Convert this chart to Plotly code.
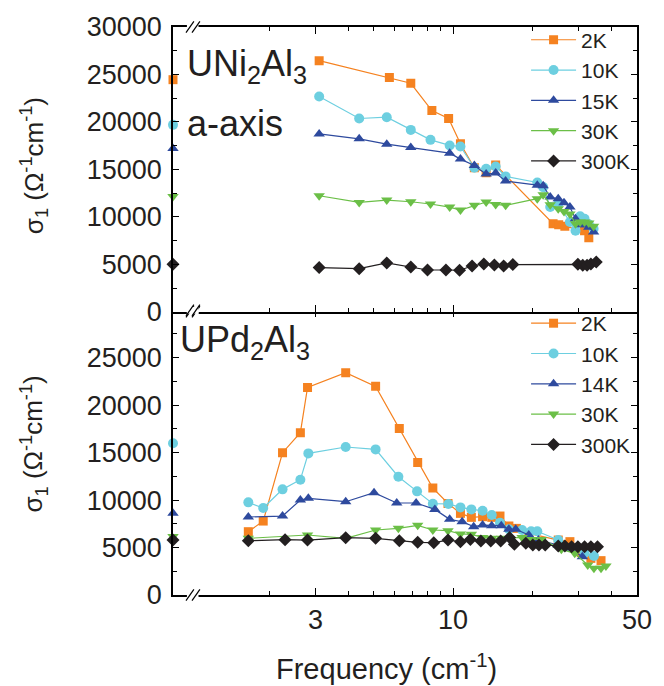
import math
import plotly.graph_objects as go

# ---------------- data ----------------
series_names_top = ["2K", "10K", "15K", "30K", "300K"]
series_names_bot = ["2K", "10K", "14K", "30K", "300K"]
colors = ["#F58220", "#6DCFE0", "#2E4A9E", "#6BBF47", "#231F20"]
symbols = ["square", "circle", "triangle-up", "triangle-down", "diamond"]

dc_freq = 0.863  # DC values drawn at left edge of the (broken) axis

# UNi2Al3 a-axis
top_2K_f = [3.10, 5.73, 6.91, 8.31, 9.62, 10.67, 12.05, 13.36, 14.52, 24.0, 25.2, 26.6, 31.6, 32.8]
top_2K_s = [26450, 24670, 24070, 21200, 20360, 17690, 15170, 14640, 15450, 9280, 9170, 9000, 8540, 7800]
top_10K_f = [3.10, 4.40, 5.60, 6.91, 8.21, 9.71, 10.67, 12.05, 13.36, 14.52, 15.84, 20.9, 22.0, 23.4, 25.1, 27.8, 29.2, 30.4, 31.6, 32.8, 34.2]
top_10K_s = [22670, 20360, 20500, 19160, 18110, 17520, 17410, 15170, 15060, 15300, 14260, 13620, 13130, 11030, 11380, 9450, 8540, 10050, 9800, 9210, 8750]
top_15K_f = [3.10, 4.40, 5.60, 6.91, 9.71, 10.67, 12.05, 13.36, 14.52, 15.84, 20.9, 22.0, 23.4, 25.1, 26.4, 27.8, 29.2, 30.4, 31.6, 32.8, 34.2]
top_15K_s = [18740, 18220, 17660, 17310, 16710, 16080, 15410, 14500, 14610, 13770, 13340, 13270, 12080, 11910, 11490, 11030, 9800, 9170, 9170, 8890, 8400]
top_30K_f = [3.10, 4.40, 5.60, 6.91, 8.21, 9.71, 10.67, 12.05, 13.36, 14.52, 15.84, 20.9, 22.0, 23.4, 25.1, 26.4, 27.8, 29.2, 30.4, 31.6, 32.8, 34.2]
top_30K_s = [12220, 11520, 11770, 11590, 11350, 11030, 10710, 11210, 11560, 11310, 11210, 11910, 12330, 11280, 10860, 10570, 10290, 9280, 9450, 9450, 9350, 9000]
top_300K_f = [3.10, 4.40, 5.60, 6.91, 8.00, 9.40, 10.59, 11.81, 13.09, 14.36, 15.57, 16.87, 29.8, 31.1, 32.3, 33.4, 35.0]
top_300K_s = [4650, 4540, 5140, 4720, 4400, 4400, 4370, 4820, 5040, 4930, 4820, 4970, 5000, 4890, 4890, 5040, 5250]
top_dc = [24450, 19690, 17200, 12150, 5000]

# UPd2Al3
bot_2K_f = [1.668, 1.90, 2.25, 2.63, 2.80, 3.91, 5.08, 6.25, 7.34, 8.38, 9.57, 10.67, 11.74, 12.95, 14.03, 15.08, 16.3, 17.4, 19.4, 25.1, 27.8, 30.7, 33.4, 36.5]
bot_2K_s = [6670, 7790, 14990, 17100, 21870, 23420, 21980, 17550, 13970, 11270, 9650, 8600, 8180, 8250, 8180, 8320, 7270, 7020, 6500, 5790, 5620, 4460, 3860, 3620]
bot_10K_f = [1.668, 1.90, 2.25, 2.63, 2.82, 3.91, 5.08, 6.20, 7.30, 8.38, 9.60, 10.67, 11.74, 12.95, 14.03, 15.08, 16.3, 18.3, 19.8, 20.9, 25.1, 31.6, 34.3]
bot_10K_s = [9760, 9160, 11130, 12150, 14920, 15590, 15340, 12460, 10920, 9620, 9590, 9230, 9020, 8880, 8430, 7620, 6920, 6850, 6710, 6710, 5790, 4390, 4110]
bot_14K_f = [1.668, 2.25, 2.63, 2.82, 3.91, 5.01, 6.11, 7.24, 8.53, 9.71, 10.83, 11.98, 12.95, 14.03, 15.25, 16.3, 17.3, 19.4, 21.1, 25.1, 27.8, 31.0]
bot_14K_s = [8220, 8320, 10010, 10180, 9830, 10780, 9690, 9690, 9020, 7970, 7720, 7200, 7370, 7300, 7300, 6920, 6920, 6320, 5790, 5270, 4920, 4040]
bot_30K_f = [1.668, 2.80, 3.91, 5.08, 6.20, 7.34, 8.38, 9.57, 10.67, 11.74, 12.95, 14.03, 15.3, 18.3, 19.9, 21.7, 25.8, 29.0, 32.5, 34.3, 36.5, 38.1]
bot_30K_s = [5970, 6320, 5970, 6850, 7020, 7340, 6850, 6780, 6430, 6390, 6070, 5970, 5970, 6070, 5860, 5860, 4810, 4390, 3160, 2810, 2810, 3060]
bot_300K_f = [1.668, 2.30, 2.80, 3.91, 5.08, 6.25, 7.34, 8.45, 9.57, 10.67, 11.64, 12.76, 13.91, 15.17, 16.4, 17.1, 18.9, 20.1, 21.2, 22.4, 25.1, 26.6, 28.2, 29.8, 31.6, 33.4, 35.4]
bot_300K_s = [5720, 5830, 5790, 6040, 5970, 5720, 5550, 5510, 5790, 5620, 5860, 5690, 5690, 5690, 6070, 5340, 5440, 5270, 5270, 5270, 5160, 5160, 5090, 5090, 5090, 5090, 5090]
bot_dc_names = ["10K", "14K", "30K", "300K"]
bot_dc = [15980, 8600, 6150, 5790]

x_tickvals = [3, 10, 50]
x_ticktext = ["3", "10", "50"]
x_minor = [2, 4, 5, 6, 7, 8, 9, 20, 30, 40]
y_tickvals_top = [0, 5000, 10000, 15000, 20000, 25000, 30000]
y_tickvals_bot = [0, 5000, 10000, 15000, 20000, 25000]

# ---------------- figure ----------------
FONT = "Liberation Sans, Arial, sans-serif"
TXT = "#231F20"
fig = go.Figure()

top_sets = [(top_2K_f, top_2K_s), (top_10K_f, top_10K_s), (top_15K_f, top_15K_s),
            (top_30K_f, top_30K_s), (top_300K_f, top_300K_s)]
bot_sets = [(bot_2K_f, bot_2K_s), (bot_10K_f, bot_10K_s), (bot_14K_f, bot_14K_s),
            (bot_30K_f, bot_30K_s), (bot_300K_f, bot_300K_s)]

msize = [9, 10, 10, 10, 10]

for i, (f, s) in enumerate(top_sets):
    fig.add_trace(go.Scatter(
        x=f, y=s, mode="lines+markers", name=series_names_top[i],
        line=dict(color=colors[i], width=1.2),
        marker=dict(symbol=symbols[i], size=msize[i], color=colors[i]),
        xaxis="x2", yaxis="y2", legend="legend"))
for i, v in enumerate(top_dc):
    fig.add_trace(go.Scatter(
        x=[dc_freq], y=[v], mode="markers", showlegend=False,
        marker=dict(symbol=symbols[i], size=msize[i], color=colors[i]),
        cliponaxis=False, xaxis="x2", yaxis="y2"))

for i, (f, s) in enumerate(bot_sets):
    fig.add_trace(go.Scatter(
        x=f, y=s, mode="lines+markers", name=series_names_bot[i],
        line=dict(color=colors[i], width=1.2),
        marker=dict(symbol=symbols[i], size=msize[i], color=colors[i]),
        xaxis="x", yaxis="y", legend="legend2"))
for j, v in enumerate(bot_dc):
    i = series_names_bot.index(bot_dc_names[j])
    fig.add_trace(go.Scatter(
        x=[dc_freq], y=[v], mode="markers", showlegend=False,
        marker=dict(symbol=symbols[i], size=msize[i], color=colors[i]),
        cliponaxis=False, xaxis="x", yaxis="y"))

xr = [math.log10(dc_freq), math.log10(50)]

common_x = dict(type="log", range=xr, showline=True, linecolor="black", linewidth=1.5,
                mirror="allticks", ticks="inside", ticklen=7, tickwidth=1.2, tickcolor="black",
                tickvals=x_tickvals, ticktext=x_ticktext, showgrid=False, zeroline=False,
                minor=dict(tickvals=x_minor, ticks="inside", ticklen=4, tickwidth=1.2, tickcolor="black"),
                tickfont=dict(family=FONT, size=27, color=TXT))
common_y = dict(range=[0, 30000], showline=True, linecolor="black", linewidth=1.5,
                mirror="allticks", ticks="inside", ticklen=6, tickwidth=1.2, tickcolor="black",
                showgrid=False, zeroline=False, ticklabelstandoff=4, tickformat="d",
                minor=dict(dtick=2500, tick0=0, ticks="inside", ticklen=4, tickwidth=1.2, tickcolor="black"),
                tickfont=dict(family=FONT, size=27, color=TXT))

ov = 0.75 / 570.0  # overlap so the shared border lines coincide

fig.update_layout(
    width=664, height=686,
    margin=dict(l=173, r=20, t=25, b=91),
    plot_bgcolor="white", paper_bgcolor="white",
    font=dict(family=FONT, color=TXT),
    xaxis=dict(**common_x, anchor="y", domain=[0, 1]),
    xaxis2=dict(**common_x, anchor="y2", matches="x", showticklabels=False, domain=[0, 1]),
    yaxis=dict(**common_y, domain=[0, 0.5 + ov], anchor="x", tickvals=y_tickvals_bot),
    yaxis2=dict(**common_y, domain=[0.5 - ov, 1], anchor="x2", tickvals=y_tickvals_top),
    legend=dict(x=0.998, y=1.013, xanchor="right", yanchor="top", bgcolor="rgba(0,0,0,0)",
                font=dict(family=FONT, size=21, color=TXT), tracegroupgap=0, itemwidth=45),
    legend2=dict(x=0.998, y=0.514, xanchor="right", yanchor="top", bgcolor="rgba(0,0,0,0)",
                 font=dict(family=FONT, size=21, color=TXT), tracegroupgap=0, itemwidth=45),
)

# axis break marks "//" on top/bottom borders of each panel
for yref, ypos in [("y2 domain", 0), ("y2 domain", 1), ("y domain", 0), ("y domain", 1)]:
    xref = "x2 domain" if yref.startswith("y2") else "x domain"
    fig.add_shape(type="rect", xref=xref, yref=yref, x0=0.03, x1=0.055, y0=ypos - 0.012, y1=ypos + 0.012,
                  fillcolor="white", line=dict(width=0), layer="above")
    for dx in (0.0, 0.013):
        fig.add_shape(type="line", xref=xref, yref=yref,
                      x0=0.028 + dx, x1=0.045 + dx, y0=ypos - 0.02, y1=ypos + 0.02,
                      line=dict(color="black", width=1.2), layer="above")

# panel labels
fig.add_annotation(xref="paper", yref="paper", x=0.0, y=0.931, xanchor="left", yanchor="middle",
                   text="UNi<sub>2</sub>Al<sub>3</sub>", showarrow=False, xshift=12,
                   font=dict(family=FONT, size=36, color=TXT))
fig.add_annotation(xref="paper", yref="paper", x=0.0, y=0.83, xanchor="left", yanchor="middle",
                   text="a-axis", showarrow=False, xshift=12,
                   font=dict(family=FONT, size=36, color=TXT))
fig.add_annotation(xref="paper", yref="paper", x=0.0, y=0.445, xanchor="left", yanchor="middle",
                   text="UPd<sub>2</sub>Al<sub>3</sub>", showarrow=False, xshift=5,
                   font=dict(family=FONT, size=36, color=TXT))

# axis titles
ytitle = "σ<sub>1</sub> (Ω<sup>-1</sup>cm<sup>-1</sup>)"
for yc in (0.755, 0.265):
    fig.add_annotation(xref="paper", yref="paper", x=0, y=yc, xshift=-139, textangle=-90,
                       text=ytitle, showarrow=False, xanchor="center", yanchor="middle",
                       font=dict(family=FONT, size=26, color=TXT))
fig.add_annotation(xref="paper", yref="paper", x=0.46, y=0, yshift=-72, xanchor="center", yanchor="middle",
                   text="Frequency (cm<sup>-1</sup>)", showarrow=False,
                   font=dict(family=FONT, size=29, color=TXT))

fig.write_html("out.html")
